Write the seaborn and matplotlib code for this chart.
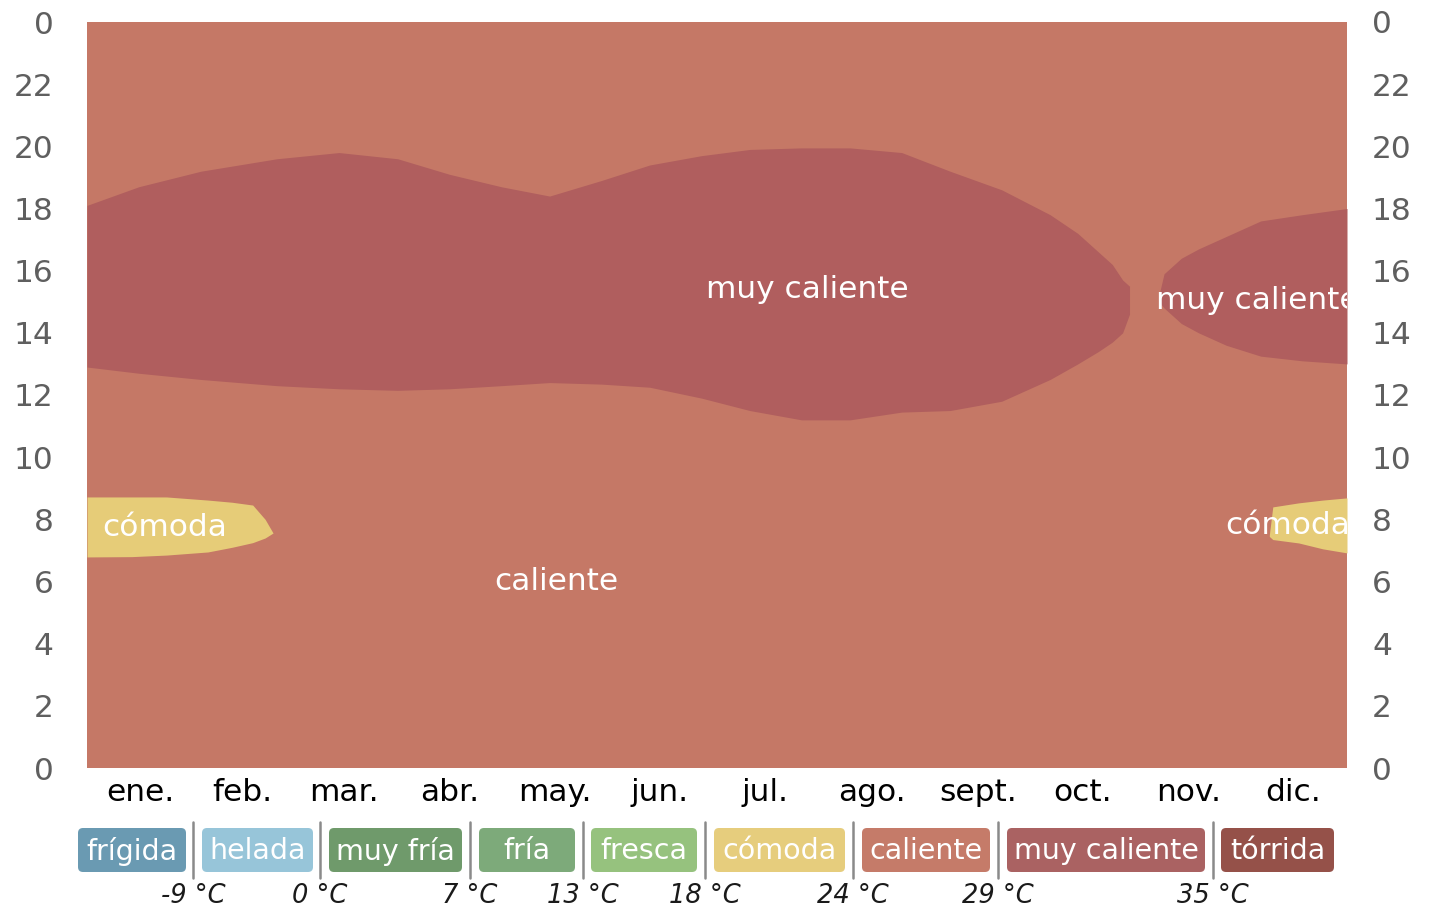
import matplotlib

matplotlib.use("Agg")
import matplotlib.pyplot as plt
import seaborn as sns
from matplotlib.patches import FancyBboxPatch

# Data: hour-of-day bands over the day of year
MONTHS = ["ene.", "feb.", "mar.", "abr.", "may.", "jun.",
          "jul.", "ago.", "sept.", "oct.", "nov.", "dic."]
MONTH_MID_DAY = [15.5, 45, 74.5, 105, 135.5, 166, 196.5, 227.5, 258, 288.5, 319, 349.5]
HOUR_TICKS = list(range(0, 25, 2))
HOUR_LABELS = ["0", "2", "4", "6", "8", "10", "12", "14", "16", "18", "20", "22", "0"]

# "muy caliente" band, main part (jan - oct)
hot_days = [0, 15, 33, 55, 73, 90, 105, 120, 134, 149, 163, 178, 192, 207,
            221, 236, 250, 265, 279, 287, 293, 297, 300, 302]
hot_upper = [18.1, 18.7, 19.2, 19.6, 19.8, 19.6, 19.1, 18.7, 18.4, 18.9, 19.4,
             19.7, 19.9, 19.95, 19.95, 19.8, 19.2, 18.6, 17.8, 17.2, 16.6, 16.2,
             15.7, 15.5]
hot_lower = [12.9, 12.7, 12.5, 12.3, 12.2, 12.15, 12.2, 12.3, 12.4, 12.35, 12.25,
             11.9, 11.5, 11.2, 11.2, 11.45, 11.5, 11.8, 12.5, 13.0, 13.4, 13.7,
             14.0, 14.6]

# "muy caliente" band, nov - dec
hot2_days = [310.5, 312, 317, 322, 330, 340, 352, 365]
hot2_upper = [15.2, 15.9, 16.4, 16.7, 17.1, 17.6, 17.8, 18.0]
hot2_lower = [15.0, 14.8, 14.3, 14.0, 13.6, 13.25, 13.1, 13.0]

# "cómoda" patches
comf_days = [0, 13, 23, 35, 42, 48, 51.6, 53.9]
comf_upper = [8.72, 8.72, 8.72, 8.62, 8.55, 8.46, 8.0, 7.56]
comf_lower = [6.79, 6.8, 6.85, 6.95, 7.1, 7.25, 7.4, 7.56]

comf2_days = [342.5, 343.5, 351, 358, 365]
comf2_upper = [7.5, 8.4, 8.53, 8.62, 8.69]
comf2_lower = [7.45, 7.35, 7.24, 7.05, 6.92]

# Legend
CATEGORIES = ["frígida", "helada", "muy fría", "fría", "fresca",
              "cómoda", "caliente", "muy caliente", "tórrida"]
CAT_COLORS = ["#6a9ab2", "#97c5d9", "#6f9a6b", "#7daa7a", "#96c27e",
              "#e6cd7d", "#c57b69", "#aa6262", "#955149"]
THRESHOLDS = [-9, 0, 7, 13, 18, 24, 29, 35]

# Colours used inside the plot
C_HOT = "#c57866"
C_VERYHOT = "#b05e5e"
C_COMF = "#e6cc78"

sns.set_theme(style="white")
plt.rcParams["font.family"] = ["DejaVu Sans"]

W, H = 1429, 911
fig = plt.figure(figsize=(W / 100, H / 100), dpi=100)
ax = fig.add_axes([87 / W, 1 - 768 / H, 1260 / W, 746 / H])

ax.set_facecolor(C_HOT)
ax.fill_between(hot_days, hot_lower, hot_upper, color=C_VERYHOT, lw=0)
ax.fill_between(hot2_days, hot2_lower, hot2_upper, color=C_VERYHOT, lw=0)
ax.fill_between(comf_days, comf_lower, comf_upper, color=C_COMF, lw=0)
ax.fill_between(comf2_days, comf2_lower, comf2_upper, color=C_COMF, lw=0)

ax.set_xlim(0, 365)
ax.set_ylim(0, 24)
sns.despine(ax=ax, left=True, bottom=True)

lbl = dict(color="white", fontsize=22.5, va="center", clip_on=True)
ax.text(208.6, 15.4, "muy caliente", ha="center", **lbl)
ax.text(309.7, 15.05, "muy caliente", ha="left", **lbl)
ax.text(135.9, 6.0, "caliente", ha="center", **lbl)
ax.text(22.6, 7.75, "cómoda", ha="center", **lbl)
ax.text(329.7, 7.8, "cómoda", ha="left", **lbl)

ax.set_xticks(MONTH_MID_DAY)
ax.set_xticklabels(MONTHS, fontsize=22.5, color="black")
ax.tick_params(axis="x", length=0, pad=7)

ax.set_yticks(HOUR_TICKS)
ax.set_yticklabels(HOUR_LABELS, fontsize=22.5, color="#5f5f5f")
ax.tick_params(axis="y", length=0, pad=24)

ax_r = ax.twinx()
ax_r.set_ylim(0, 24)
ax_r.set_yticks(HOUR_TICKS)
ax_r.set_yticklabels(HOUR_LABELS, fontsize=22.5, color="#5f5f5f")
ax_r.tick_params(axis="y", length=0, pad=18)
for s in ax_r.spines.values():
    s.set_visible(False)
for s in ax.spines.values():
    s.set_visible(False)

# Legend strip, laid out in pixel coordinates
leg = fig.add_axes([0, 0, 1, 1], facecolor="none")
leg.set_xlim(0, W)
leg.set_ylim(H, 0)
leg.axis("off")

box_left = [78, 202, 329, 479, 591, 714, 862, 1007, 1221]
box_right = [186, 313, 462, 575, 697, 845, 990, 1205, 1334]
sep_x = [193, 320, 470, 583, 705, 853, 998, 1213]
box_top, box_bottom = 828, 872

for name, color, x0, x1 in zip(CATEGORIES, CAT_COLORS, box_left, box_right):
    leg.add_patch(FancyBboxPatch((x0 + 5, box_top + 5), x1 - x0 - 10, box_bottom - box_top - 10,
                                 boxstyle="round,pad=5", fc=color, ec="none"))
    leg.text((x0 + x1) / 2, (box_top + box_bottom) / 2 + 1, name, color="white",
             fontsize=20.5, ha="center", va="center")

for x, t in zip(sep_x, THRESHOLDS):
    leg.plot([x, x], [822, 878], color="#8a8a8a", lw=1.8)
    leg.text(x, 896, f"{t} °C", fontsize=18.5, style="italic", color="#1a1a1a",
             ha="center", va="center")

fig.savefig("out.png", dpi=100)
